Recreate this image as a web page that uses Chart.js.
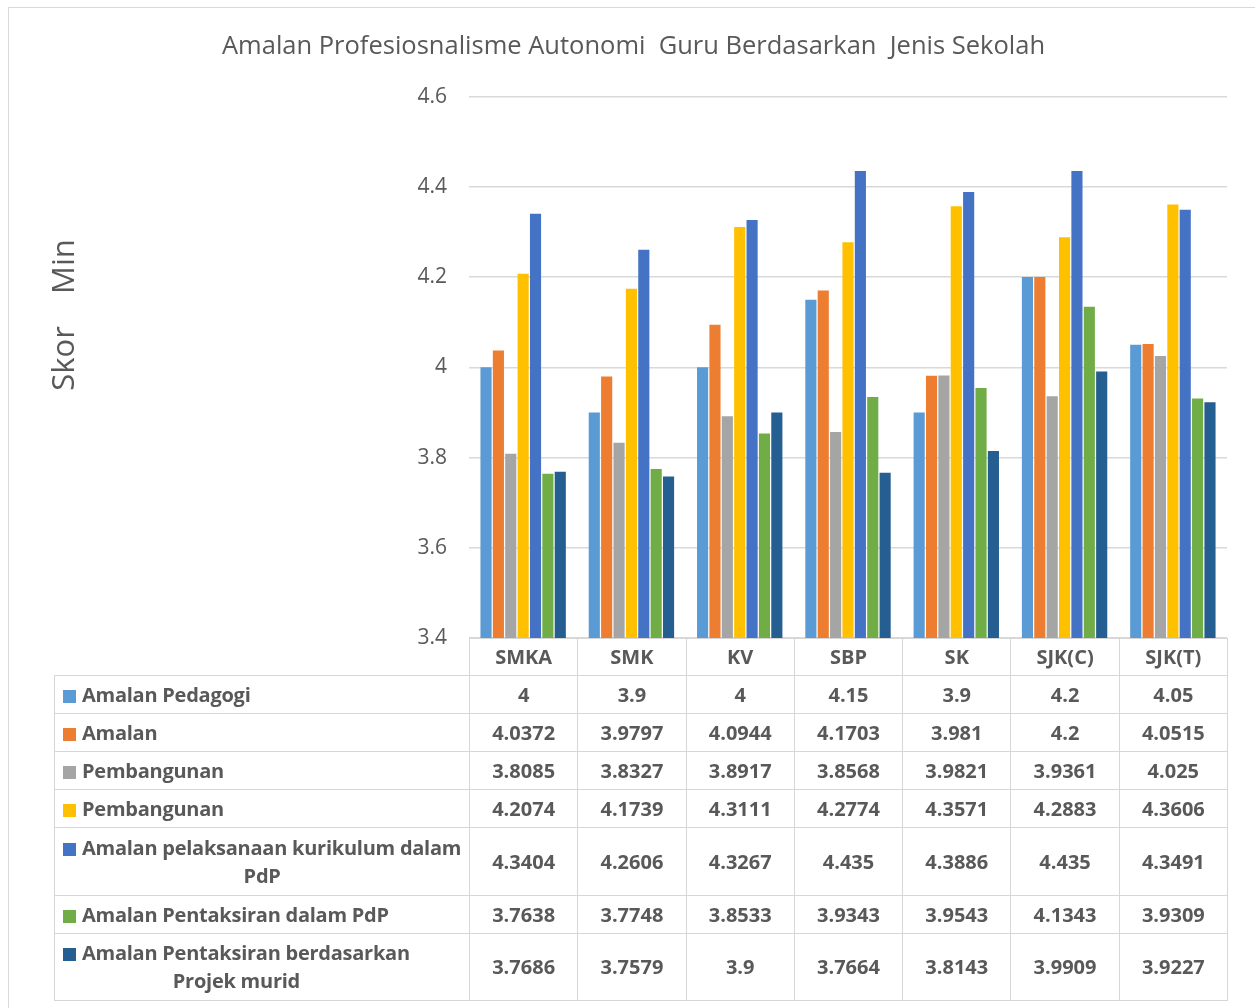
<!DOCTYPE html>
<html>
<head>
<meta charset="utf-8">
<script src="https://cdn.jsdelivr.net/npm/chart.js@4.4.1/dist/chart.umd.min.js"></script>
<style>
  body { margin: 0; background: #fff; font-family: 'Open Sans', sans-serif; }
  #frame { position: absolute; left: 8px; top: 7px; width: 1260px; height: 1010px; border: 1px solid #d9d9d9; }
  #wrap { position: absolute; left: 0; top: 0; width: 1255px; height: 1008px; }
  #tbl { position: absolute; left: 54px; top: 638px; border-collapse: collapse; table-layout: fixed;
         color: #595959; font-weight: 700; font-size: 20px; }
  #tbl td { border: 1px solid #d6d6d6; text-align: center; vertical-align: middle; padding: 0 2px; line-height: 28px; }
  #tbl td.blank { border-top: none; border-left: none; }
  #tbl td.name { text-align: left; padding-left: 8px; white-space: nowrap; letter-spacing: -0.25px; }
  .lbl { display: inline-block; text-align: center; }
  .key { display: inline-block; width: 13px; height: 13px; margin-right: 6px; vertical-align: -1px; }
</style>
</head>
<body>
<div id="frame"></div>
<div id="wrap"><canvas id="chart"></canvas></div>
<table id="tbl"></table>
<script>
(function() {
    var categories = ["SMKA", "SMK", "KV", "SBP", "SK", "SJK(C)", "SJK(T)"];
    var seriesNames = [
        "Amalan Pedagogi",
        "Amalan",
        "Pembangunan",
        "Pembangunan",
        "Amalan pelaksanaan kurikulum dalam\nPdP",
        "Amalan Pentaksiran dalam PdP",
        "Amalan Pentaksiran berdasarkan\nProjek murid"
    ];
    var pedagogi   = [4, 3.9, 4, 4.15, 3.9, 4.2, 4.05];
    var amalan     = [4.0372, 3.9797, 4.0944, 4.1703, 3.981, 4.2, 4.0515];
    var pembA      = [3.8085, 3.8327, 3.8917, 3.8568, 3.9821, 3.9361, 4.025];
    var pembB      = [4.2074, 4.1739, 4.3111, 4.2774, 4.3571, 4.2883, 4.3606];
    var kurikulum  = [4.3404, 4.2606, 4.3267, 4.435, 4.3886, 4.435, 4.3491];
    var pentaksiran = [3.7638, 3.7748, 3.8533, 3.9343, 3.9543, 4.1343, 3.9309];
    var projek     = [3.7686, 3.7579, 3.9, 3.7664, 3.8143, 3.9909, 3.9227];
    var yTicks = [3.4, 3.6, 3.8, 4, 4.2, 4.4, 4.6];

    var series = [pedagogi, amalan, pembA, pembB, kurikulum, pentaksiran, projek];
    var colors = ["#5B9BD5", "#ED7D31", "#A5A5A5", "#FFC000", "#4472C4", "#70AD47", "#255E91"];
    var rowHeights = [38, 38, 38, 38, 68, 38, 67];

    var datasets = series.map(function(vals, i) {
        return {
            label: seriesNames[i].replace("\n", " "),
            data: vals,
            backgroundColor: colors[i],
            borderWidth: 0,
            categoryPercentage: 0.8,
            barPercentage: 0.9
        };
    });

    // y axis title drawn by hand so it sits where Excel put it
    var axisTitle = {
        id: "axisTitle",
        afterDraw: function(chart) {
            var c = chart.ctx;
            c.save();
            c.translate(74, 315);
            c.rotate(-Math.PI / 2);
            c.font = "31px 'Open Sans'";
            c.fillStyle = "#595959";
            c.textAlign = "center";
            c.textBaseline = "alphabetic";
            c.fillText("Skor    Min", 0, 0);
            c.restore();
        }
    };

    var chart = new Chart(document.getElementById("chart").getContext("2d"), {
        type: "bar",
        data: { labels: categories, datasets: datasets },
        plugins: [axisTitle],
        options: {
            responsive: true,
            maintainAspectRatio: false,
            animation: false,
            layout: { padding: { left: 40, right: 28, top: 20, bottom: 370 } },
            plugins: {
                legend: { display: false },
                tooltip: { enabled: false },
                title: {
                    display: true,
                    text: "Amalan Profesiosnalisme Autonomi  Guru Berdasarkan  Jenis Sekolah",
                    color: "#595959",
                    font: { family: "'Open Sans'", size: 25.5, weight: "normal" },
                    padding: { top: 11, bottom: 35 }
                }
            },
            scales: {
                x: { display: false },
                y: {
                    min: 3.4,
                    max: 4.6,
                    afterBuildTicks: function(axis) {
                        axis.ticks = yTicks.map(function(v) { return { value: v }; });
                    },
                    afterFit: function(axis) { axis.width = 429; },
                    border: { display: false },
                    grid: { color: "#d9d9d9", lineWidth: 1.5, drawTicks: false },
                    ticks: {
                        color: "#595959",
                        padding: 22,
                        font: { family: "'Open Sans'", size: 21 },
                        callback: function(v) { return String(Math.round(v * 10) / 10); }
                    }
                }
            }
        }
    });

    // data table under the plot, columns lined up with the category bands
    var area = chart.chartArea;
    var tbl = document.getElementById("tbl");
    var colW = (area.right - area.left) / categories.length;
    var firstW = area.left - 54;
    var cg = "<colgroup><col style='width:" + firstW + "px'>";
    categories.forEach(function() { cg += "<col style='width:" + colW + "px'>"; });
    cg += "</colgroup>";
    var html = cg + "<tr style='height:37px'><td class='blank'></td>";
    categories.forEach(function(c) { html += "<td>" + c + "</td>"; });
    html += "</tr>";
    series.forEach(function(vals, i) {
        var name = seriesNames[i].split("\n").join("<br>");
        html += "<tr style='height:" + rowHeights[i] + "px'><td class='name'><span class='lbl'>" +
            "<span class='key' style='background:" + colors[i] + "'></span>" + name + "</span></td>";
        vals.forEach(function(v) { html += "<td>" + String(v) + "</td>"; });
        html += "</tr>";
    });
    tbl.innerHTML = html;
    tbl.style.width = (firstW + colW * categories.length) + "px";
})();
</script>
</body>
</html>
